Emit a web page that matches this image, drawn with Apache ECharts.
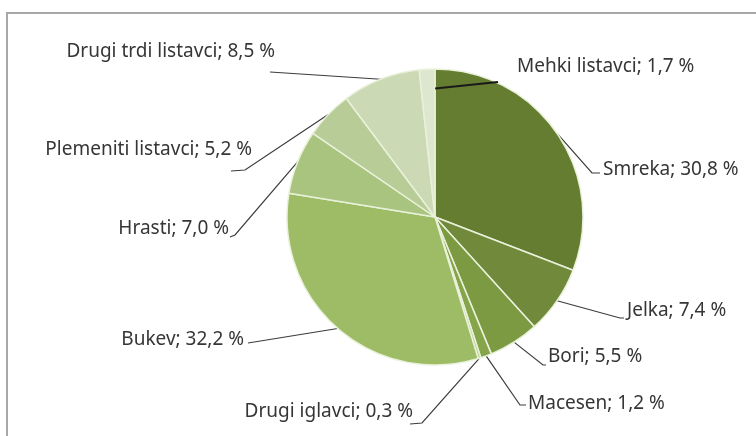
<!DOCTYPE html>
<html>
<head>
<meta charset="utf-8">
<script src="https://cdn.jsdelivr.net/npm/echarts@6/dist/echarts.min.js"></script>
<style>
  html, body { margin: 0; padding: 0; background: #fff; }
  #chart { width: 756px; height: 436px; }
</style>
</head>
<body>
<div id="chart"></div>
<script>
// deleži lesne zaloge po drevesnih vrstah (%)
const names = ['Smreka', 'Jelka', 'Bori', 'Macesen', 'Drugi iglavci', 'Bukev', 'Hrasti', 'Plemeniti listavci', 'Drugi trdi listavci', 'Mehki listavci'];
const values = [30.8, 7.4, 5.5, 1.2, 0.3, 32.2, 7.0, 5.2, 8.5, 1.7];
const colors = ['#657d30', '#71893a', '#7c9a42', '#86a54b', '#b9d08f', '#9dbc65', '#a9c47e', '#b8cc97', '#cbd9b5', '#dde6cf'];

// where each label sits: [x, y, align] and the extra bend points of its leader line
const labelPos = [
  [603, 170, 'left'], [627, 311, 'left'], [548, 357, 'left'], [528, 404, 'left'], [413, 412, 'right'],
  [244, 340, 'right'], [229, 229, 'right'], [252, 150, 'right'], [275, 52, 'right'], [517, 67, 'left']
];
const lineTail = [
  [[592, 173], [600, 173]], [[620, 318], [624, 318]], [[543, 365], [546, 365]], [[520, 405], [526, 405]], [[422, 423], [410, 424]],
  [[248, 343]], [[235, 235], [230, 237]], [[245, 170], [231, 171]], [[270, 72]], [[498, 82]]
];
const center = [435, 217];
const radius = 148;
const MEHKI = 9; // its leader runs into the pie, drawn on top separately

const fmt = v => v.toFixed(1).replace('.', ',') + ' %';

const frame = {
  type: 'polyline',
  shape: { points: [[7, 440], [7, 13], [760, 13]] },
  style: { stroke: '#a8a8a8', lineWidth: 2, fill: null }
};

const myChart = echarts.init(document.getElementById('chart'));
const option = {
  animation: false,
  graphic: [frame],
  series: [{
    type: 'pie',
    center: center,
    radius: radius,
    startAngle: 90,
    clockwise: true,
    avoidLabelOverlap: false,
    data: names.map((n, i) => {
      const item = { name: n, value: values[i], itemStyle: { color: colors[i] } };
      if (i === MEHKI) item.labelLine = { show: false };
      return item;
    }),
    itemStyle: { borderColor: '#e9f1da', borderWidth: 1.5 },
    label: {
      show: true,
      position: 'outside',
      formatter: p => p.name + '; ' + fmt(p.value),
      fontFamily: 'Noto Sans',
      fontSize: 19,
      color: '#363636'
    },
    labelLine: {
      show: true,
      length: 10,
      length2: 10,
      lineStyle: { color: '#3c3c3c', width: 1.2 }
    },
    emphasis: { disabled: true },
    labelLayout: params => {
      const i = params.dataIndex;
      const pos = labelPos[i];
      const out = { x: pos[0], y: pos[1], align: pos[2], verticalAlign: 'middle' };
      if (params.labelLinePoints) {
        out.labelLinePoints = [params.labelLinePoints[0].slice()].concat(lineTail[i]);
      }
      return out;
    }
  }]
};

try {
  option && myChart.setOption(option);
} catch (e) {
  console.log(e);
}

// leader line of the small "Mehki" slice, starting inside the pie at its mid angle
let mid;
try {
  const lay = myChart.getModel().getSeriesByIndex(0).getData().getItemLayout(MEHKI);
  mid = [lay.cx + lay.r * 0.87 * Math.cos((lay.startAngle + lay.endAngle) / 2),
         lay.cy + lay.r * 0.87 * Math.sin((lay.startAngle + lay.endAngle) / 2)];
} catch (e) {
  const total = values.reduce((a, b) => a + b, 0);
  const before = values.slice(0, MEHKI).reduce((a, b) => a + b, 0);
  const ang = (before + values[MEHKI] / 2) / total * Math.PI * 2;
  mid = [center[0] + radius * 0.87 * Math.sin(ang), center[1] - radius * 0.87 * Math.cos(ang)];
}
myChart.setOption({
  graphic: [frame, {
    type: 'line',
    z: 100,
    shape: { x1: mid[0] + 7, y1: mid[1], x2: lineTail[MEHKI][0][0], y2: lineTail[MEHKI][0][1] },
    style: { stroke: '#1a1a1a', lineWidth: 2 }
  }]
});
</script>
</body>
</html>
